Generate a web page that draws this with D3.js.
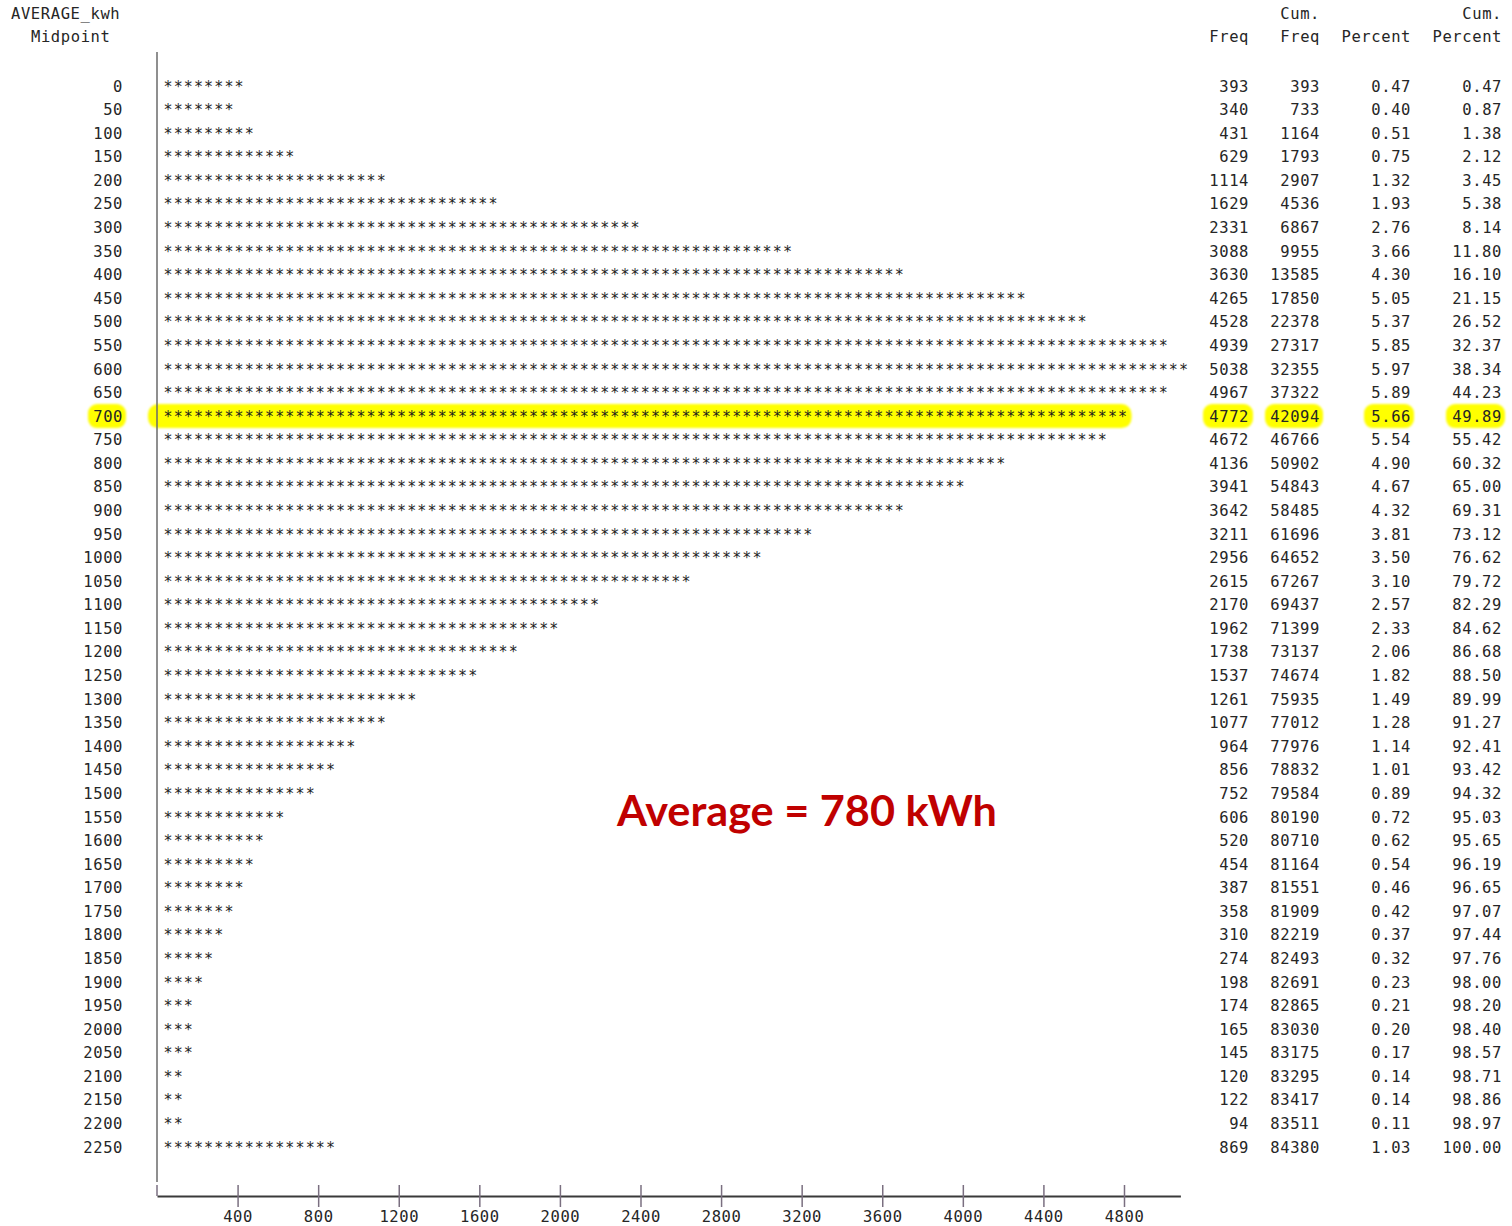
<!DOCTYPE html>
<html><head><meta charset="utf-8">
<script src="https://cdn.jsdelivr.net/npm/d3@7"></script>
<style>body{margin:0;background:#fff}svg{display:block}</style>
</head><body>
<script>
const midpoints = [0,50,100,150,200,250,300,350,400,450,500,550,600,650,700,750,800,850,900,950,1000,1050,1100,1150,1200,1250,1300,1350,1400,1450,1500,1550,1600,1650,1700,1750,1800,1850,1900,1950,2000,2050,2100,2150,2200,2250];
const freq = [393,340,431,629,1114,1629,2331,3088,3630,4265,4528,4939,5038,4967,4772,4672,4136,3941,3642,3211,2956,2615,2170,1962,1738,1537,1261,1077,964,856,752,606,520,454,387,358,310,274,198,174,165,145,120,122,94,869];
const cumFreq = [393,733,1164,1793,2907,4536,6867,9955,13585,17850,22378,27317,32355,37322,42094,46766,50902,54843,58485,61696,64652,67267,69437,71399,73137,74674,75935,77012,77976,78832,79584,80190,80710,81164,81551,81909,82219,82493,82691,82865,83030,83175,83295,83417,83511,84380];
const percent = ["0.47","0.40","0.51","0.75","1.32","1.93","2.76","3.66","4.30","5.05","5.37","5.85","5.97","5.89","5.66","5.54","4.90","4.67","4.32","3.81","3.50","3.10","2.57","2.33","2.06","1.82","1.49","1.28","1.14","1.01","0.89","0.72","0.62","0.54","0.46","0.42","0.37","0.32","0.23","0.21","0.20","0.17","0.14","0.14","0.11","1.03"];
const cumPercent = ["0.47","0.87","1.38","2.12","3.45","5.38","8.14","11.80","16.10","21.15","26.52","32.37","38.34","44.23","49.89","55.42","60.32","65.00","69.31","73.12","76.62","79.72","82.29","84.62","86.68","88.50","89.99","91.27","92.41","93.42","94.32","95.03","95.65","96.19","96.65","97.07","97.44","97.76","98.00","98.20","98.40","98.57","98.71","98.86","98.97","100.00"];
const tickValues = [400,800,1200,1600,2000,2400,2800,3200,3600,4000,4400,4800];
const starUnit = 50;
const highlightMid = 700;
const annotation = "Average = 780 kWh";

const W = 1512, H = 1226;
const mono = "'DejaVu Sans Mono', 'Liberation Mono', monospace";
const txtCol = "#262626";
const svg = d3.select("body").append("svg").attr("width", W).attr("height", H);

const x = d3.scaleLinear().domain([0, 5080]).range([157, 1180.4]);
// star cells: each asterisk stands for starUnit counts
const starX = d3.scaleLinear().domain([starUnit, 101 * starUnit]).range([168, 1183.5]);
const y = d3.scalePoint().domain(midpoints).range([86, 1147]);

const defs = svg.append("defs");
defs.append("filter").attr("id","soft").append("feGaussianBlur").attr("stdDeviation",1.2);

// highlights
const hy = y(highlightMid);
const hi = midpoints.indexOf(highlightMid);
const hl = svg.append("g").attr("filter","url(#soft)").attr("fill","#ffff00");
const nHi = Math.round(freq[hi]/starUnit);
hl.append("rect").attr("x", x(0)-9).attr("y", hy-12).attr("width", starX(nHi*starUnit)+9 - (x(0)-9)).attr("height", 24).attr("rx", 10);
hl.append("rect").attr("x", 88).attr("y", hy-12).attr("width", 38).attr("height", 24).attr("rx", 9);
[[1203,50],[1265,58],[1364,50],[1446,59]].forEach(([a,w]) =>
  hl.append("rect").attr("x", a).attr("y", hy-12).attr("width", w).attr("height", 24).attr("rx", 9));

// headers
const hdr = svg.append("g").attr("font-family", mono).attr("font-size", 15.5).attr("fill", txtCol).attr("letter-spacing", 0.6);
hdr.append("text").attr("x", 11).attr("y", 19).text("AVERAGE_kwh");
hdr.append("text").attr("x", 31).attr("y", 42).text("Midpoint");
const cols = [1249, 1320, 1411, 1502];
hdr.append("text").attr("x", cols[0]).attr("y", 42).attr("text-anchor","end").text("Freq");
hdr.append("text").attr("x", cols[1]).attr("y", 19).attr("text-anchor","end").text("Cum.");
hdr.append("text").attr("x", cols[1]).attr("y", 42).attr("text-anchor","end").text("Freq");
hdr.append("text").attr("x", cols[2]).attr("y", 42).attr("text-anchor","end").text("Percent");
hdr.append("text").attr("x", cols[3]).attr("y", 19).attr("text-anchor","end").text("Cum.");
hdr.append("text").attr("x", cols[3]).attr("y", 42).attr("text-anchor","end").text("Percent");

// midpoint labels
const body = svg.append("g").attr("font-family", mono).attr("font-size", 15.5).attr("fill", txtCol).attr("letter-spacing", 0.6);
body.selectAll("text.mid").data(midpoints).join("text").attr("class","mid")
  .attr("x", 123).attr("y", d => y(d)+5.6).attr("text-anchor","end").text(d => d);

// table columns
const table = [freq, cumFreq, percent, cumPercent];
table.forEach((arr, c) => {
  body.selectAll("text.c"+c).data(arr).join("text").attr("class","c"+c)
    .attr("x", cols[c]).attr("y", (d,i) => y(midpoints[i])+5.6).attr("text-anchor","end").text(d => d);
});

// star bars
const stars = svg.append("g").attr("font-family", mono).attr("font-size", 15).attr("fill", "#1e1e1e");
stars.selectAll("text").data(midpoints).join("text")
  .attr("y", d => y(d)+5.6)
  .attr("text-anchor","middle")
  .each(function(d,i){
    const n = Math.round(freq[i]/starUnit);
    const xs = d3.range(n).map(k => starX((k+1)*starUnit).toFixed(2));
    d3.select(this).attr("x", xs.join(" ")).text("*".repeat(n));
  });

// vertical axis line
svg.append("line").attr("x1", x(0)).attr("x2", x(0)).attr("y1", 52).attr("y2", 1182)
  .attr("stroke", "#6a6a6a").attr("stroke-width", 1.5);

// horizontal axis
const axisG = svg.append("g").attr("transform", "translate(0,1196)")
  .call(d3.axisBottom(x).tickValues(tickValues).tickFormat(d3.format("d")).tickSize(11).tickSizeOuter(0).tickPadding(6));
axisG.select(".domain").attr("stroke", "#3a3a3a").attr("stroke-width", 2);
axisG.selectAll(".tick line").attr("y1", -11).attr("y2", 11).attr("stroke", "#7a6f80").attr("stroke-width", 1.5);
axisG.selectAll(".tick text").attr("font-family", mono).attr("font-size", 15.5).attr("fill", txtCol)
  .attr("letter-spacing", 0.6).attr("y", 15).attr("dy", "0.71em");
svg.append("line").attr("x1", x(0)).attr("x2", x(0)).attr("y1", 1185).attr("y2", 1196)
  .attr("stroke", "#7a6f80").attr("stroke-width", 1.5);

// annotation
svg.append("text").attr("x", 807).attr("y", 826).attr("text-anchor","middle")
  .attr("font-family", "Lato, 'Open Sans', sans-serif").attr("font-weight", 700).attr("font-size", 42)
  .attr("fill", "#c00000").attr("textLength", 380).attr("lengthAdjust","spacingAndGlyphs")
  .text(annotation);
</script>
</body></html>
